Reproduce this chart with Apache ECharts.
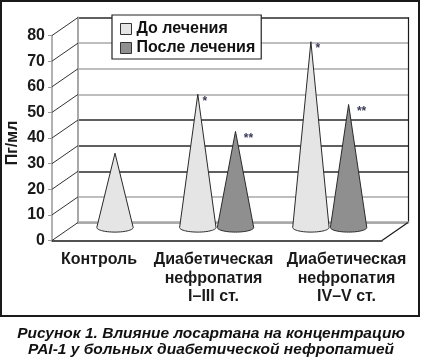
<!DOCTYPE html>
<html><head><meta charset="utf-8">
<script src="https://cdn.jsdelivr.net/npm/echarts@6/dist/echarts.min.js"></script>
<style>html,body{margin:0;padding:0;background:#fff}#c{width:422px;height:358px}</style>
</head><body><div id="c"></div>
<script>
// ---- data ----
const categories = ['Контроль', 'Диабетическая\nнефропатия\nI–III ст.', 'Диабетическая\nнефропатия\nIV–V ст.'];
const seriesNames = ['До лечения', 'После лечения'];
const beforeValues = [29, 52, 72.5];
const afterValues = [null, 37.5, 48];
const beforeMarks = ['', '*', '*'];
const afterMarks = ['', '**', '**'];
const yTicks = [0, 10, 20, 30, 40, 50, 60, 70, 80];
const yAxisName = 'Пг/мл';
const captionLines = ['Рисунок 1. Влияние лосартана на концентрацию', 'PAI-1 у больных диабетической нефропатией'];

// ---- styling / layout ----
const FONT = '"Liberation Sans", Arial, sans-serif';
const L = { depthX: 26, depthY: 18, half: 18.85, soloOffset: 11.45, rx: 18.2, ry: 4.6 };
const labelShift = [-8, -3.5, 19.5];
const gridColors = ['#a8a8a8', '#a8a8a8', '#2a2a2a', '#2a2a2a', '#2a2a2a', '#a8a8a8', '#a8a8a8', '#a8a8a8', '#2a2a2a'];
const fills = ['#e5e5e5', '#8f8f8f'];

const rich = {};
labelShift.forEach((s, i) => {
  rich['r' + i] = {
    fontFamily: FONT, fontWeight: 'bold', fontSize: 16, lineHeight: 18.5, color: '#1a1a1a',
    padding: s < 0 ? [0, -2 * s, 0, 0] : [0, 0, 0, 2 * s]
  };
});

function coneSeries(idx, vals, marks) {
  return {
    type: 'custom', name: seriesNames[idx], coordinateSystem: 'cartesian2d',
    xAxisIndex: 2, yAxisIndex: 3, z: 5,
    itemStyle: { color: fills[idx], borderColor: '#2a2a2a', borderWidth: 1 },
    data: vals.map((v, i) => [i, v == null ? '-' : v]),
    renderItem(params, api) {
      const i = api.value(0), v = api.value(1);
      if (isNaN(v)) return;
      const b = api.coord([i, 0]), t = api.coord([i, v]);
      const solo = idx === 0 && afterValues[i] == null;
      const off = solo ? L.soloOffset : (idx === 0 ? -L.half : L.half);
      const cx = b[0] + off;
      const pts = [[cx, t[1]]];
      for (let k = 0; k <= 30; k++) {
        const a = Math.PI * k / 30;
        pts.push([cx + L.rx * Math.cos(a), b[1] + L.ry * Math.sin(a)]);
      }
      const children = [{
        type: 'polygon', shape: { points: pts },
        style: { fill: fills[idx], stroke: '#2a2a2a', lineWidth: 1 }
      }];
      const m = marks[i];
      if (m) {
        children.push({
          type: 'text', x: cx + (idx === 0 ? 7 : 13), y: t[1] + 1,
          style: { text: m, fill: '#3a3a5a', font: 'bold 12px ' + FONT, align: 'center', verticalAlign: 'top' }
        });
      }
      return { type: 'group', children };
    }
  };
}

const chart = echarts.init(document.getElementById('c'), null, { renderer: 'canvas' });
chart.setOption({
  animation: false,
  backgroundColor: '#fff',
  legend: {
    data: seriesNames.map(n => ({ name: n, icon: 'rect' })),
    orient: 'vertical', left: 112, top: 15,
    padding: [6, 6, 3, 8], itemWidth: 11, itemHeight: 11, itemGap: 3,
    backgroundColor: '#fff', borderColor: '#222', borderWidth: 1.2,
    itemStyle: { borderColor: '#333', borderWidth: 1 },
    textStyle: { fontFamily: FONT, fontSize: 16, fontWeight: 'bold', color: '#111' }
  },
  graphic: [
    { type: 'rect', shape: { x: 1, y: 1, width: 418, height: 315 },
      style: { fill: null, stroke: '#1a1a1a', lineWidth: 2 }, z: 100 },
    { type: 'text', x: 211, y: 326, z: 100,
      style: { text: captionLines.join('\n'), align: 'center', verticalAlign: 'top',
        font: 'italic bold 15.5px ' + FONT, lineHeight: 16, fill: '#111' } },
    { type: 'text', x: 13, y: 143, rotation: Math.PI / 2, z: 100,
      style: { text: yAxisName, align: 'center', verticalAlign: 'middle',
        font: 'bold 16px ' + FONT, fill: '#1a1a1a' } }
  ],
  grid: [
    { left: 78, top: 17.5, width: 330, height: 205, outerBoundsMode: 'none' },
    { left: 52, top: 35.5, width: 330, height: 205, outerBoundsMode: 'none' },
    { left: 47, top: 22.5, width: 339.3, height: 205, outerBoundsMode: 'none' }
  ],
  xAxis: [
    { type: 'category', gridIndex: 0, data: categories, axisLine: { lineStyle: { color: '#a8a8a8', width: 2.5 } }, axisTick: { show: false }, axisLabel: { show: false } },
    { type: 'category', gridIndex: 1, data: categories,
      axisLine: { lineStyle: { color: '#1a1a1a', width: 1.5 } }, axisTick: { show: false },
      axisLabel: { interval: 0, margin: 10, rich,
        formatter: (val, i) => val.split('\n').map(l => '{r' + i + '|' + l + '}').join('\n') } },
    { type: 'category', gridIndex: 2, data: categories, show: false }
  ],
  yAxis: [
    { type: 'value', gridIndex: 0, min: 0, max: 80, interval: 10,
      axisLine: { show: true, lineStyle: { color: '#a8a8a8', width: 2 } }, axisTick: { show: false }, axisLabel: { show: false },
      splitLine: { show: true, lineStyle: { color: gridColors, width: 1.5 } } },
    { type: 'value', gridIndex: 0, min: 0, max: 80, interval: 10, position: 'right',
      axisLine: { show: true, lineStyle: { color: '#1a1a1a', width: 1.2 } }, axisTick: { show: false }, axisLabel: { show: false }, splitLine: { show: false } },
    { type: 'value', gridIndex: 1, min: 0, max: 80, interval: 10,
      axisLine: { show: true, lineStyle: { color: '#999', width: 1.5 } },
      axisTick: { show: true, length: 4, lineStyle: { color: '#999' } },
      axisLabel: { margin: 7, fontFamily: FONT, fontSize: 16, fontWeight: 'bold', color: '#1a1a1a' },
      splitLine: { show: false } },
    { type: 'value', gridIndex: 2, min: 0, max: 80, show: false, splitLine: { show: false } }
  ],
  series: [
    {
      type: 'custom', coordinateSystem: 'cartesian2d', xAxisIndex: 1, yAxisIndex: 2, z: 3, silent: true,
      data: yTicks.map(v => [0, v]),
      renderItem(params, api) {
        const v = api.value(1);
        const p = api.coord([0, v]);
        const cs = params.coordSys;
        const st = { stroke: '#333', lineWidth: 1 };
        const children = [{ type: 'line', shape: { x1: cs.x, y1: p[1], x2: cs.x + L.depthX, y2: p[1] - L.depthY }, style: st }];
        if (v === 0) {
          children.push({ type: 'line', shape: { x1: cs.x + cs.width, y1: p[1], x2: cs.x + cs.width + L.depthX, y2: p[1] - L.depthY }, style: { stroke: '#1a1a1a', lineWidth: 1.2 } });
        }
        return { type: 'group', children };
      }
    },
    coneSeries(0, beforeValues, beforeMarks),
    coneSeries(1, afterValues, afterMarks)
  ]
});
</script>
</body></html>
